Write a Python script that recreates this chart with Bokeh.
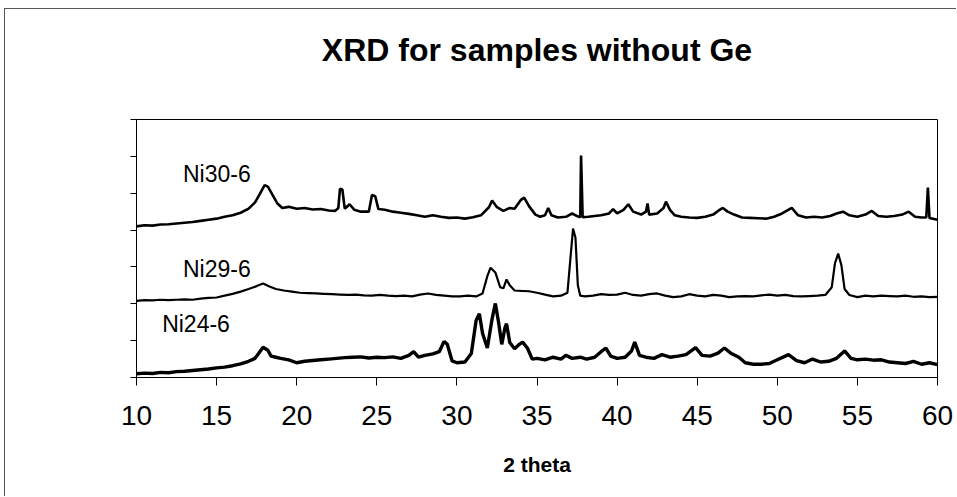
from bokeh.plotting import figure
from bokeh.models import Label, Range1d, FixedTicker, LinearAxis
from bokeh.embed import file_html
from bokeh.resources import INLINE

# ---- data (2-theta, stacked intensity in axis units) ----
ni30_x = [10.0, 10.5, 11.0, 11.5, 12.0, 12.5, 13.0, 13.5, 14.0, 14.5, 15.0, 15.5, 16.0, 16.5, 17.0, 17.4, 17.7, 18.0, 18.2, 18.5, 18.8, 19.1, 19.5, 20.0, 20.5, 21.0, 21.5, 22.0, 22.4, 22.6, 22.7, 22.85, 23.0, 23.3, 23.6, 24.0, 24.5, 24.7, 24.9, 25.1, 25.5, 26.0, 26.5, 27.0, 27.5, 28.0, 28.5, 29.0, 29.5, 30.0, 30.5, 31.0, 31.5, 32.0, 32.2, 32.5, 32.9, 33.3, 33.6, 34.0, 34.2, 34.5, 34.9, 35.2, 35.5, 35.7, 35.9, 36.3, 36.8, 37.2, 37.5, 37.7, 37.75, 37.85, 38.2, 38.6, 39.0, 39.5, 39.75, 40.0, 40.4, 40.7, 41.0, 41.5, 41.8, 41.9, 42.0, 42.5, 42.9, 43.05, 43.3, 43.6, 44.0, 44.5, 45.0, 45.5, 46.0, 46.4, 46.6, 46.9, 47.3, 47.8, 48.3, 48.8, 49.3, 49.8, 50.3, 50.9, 51.3, 51.8, 52.3, 52.8, 53.3, 53.7, 54.1, 54.5, 55.0, 55.5, 55.9, 56.3, 56.8, 57.3, 57.8, 58.2, 58.6, 59.0, 59.3, 59.4, 59.5, 60.0]
ni30_y = [4.10, 4.13, 4.12, 4.15, 4.16, 4.18, 4.20, 4.22, 4.25, 4.28, 4.31, 4.36, 4.40, 4.47, 4.58, 4.75, 4.98, 5.22, 5.18, 4.95, 4.72, 4.60, 4.63, 4.58, 4.60, 4.56, 4.57, 4.53, 4.52, 4.60, 5.12, 5.10, 4.58, 4.70, 4.55, 4.50, 4.50, 4.95, 4.92, 4.57, 4.55, 4.50, 4.47, 4.44, 4.40, 4.36, 4.40, 4.36, 4.33, 4.34, 4.31, 4.35, 4.40, 4.62, 4.80, 4.62, 4.52, 4.60, 4.58, 4.82, 4.88, 4.65, 4.42, 4.36, 4.40, 4.60, 4.40, 4.34, 4.36, 4.45, 4.38, 4.35, 6.02, 4.35, 4.36, 4.38, 4.40, 4.45, 4.57, 4.45, 4.55, 4.70, 4.50, 4.42, 4.50, 4.72, 4.42, 4.45, 4.60, 4.77, 4.55, 4.40, 4.36, 4.34, 4.33, 4.36, 4.42, 4.55, 4.60, 4.50, 4.42, 4.34, 4.33, 4.32, 4.31, 4.36, 4.45, 4.60, 4.40, 4.34, 4.36, 4.34, 4.38, 4.45, 4.50, 4.40, 4.36, 4.42, 4.52, 4.38, 4.36, 4.38, 4.42, 4.50, 4.36, 4.34, 4.34, 5.15, 4.33, 4.28]

ni29_x = [10.0, 10.5, 11.0, 11.5, 12.0, 12.5, 13.0, 13.5, 14.0, 14.5, 15.0, 15.5, 16.0, 16.5, 17.0, 17.5, 17.9, 18.3, 18.7, 19.2, 19.7, 20.2, 20.7, 21.2, 21.7, 22.2, 22.7, 23.2, 23.7, 24.2, 24.7, 25.2, 25.7, 26.2, 26.7, 27.2, 27.7, 28.2, 28.7, 29.2, 29.7, 30.2, 30.7, 31.2, 31.6, 31.9, 32.1, 32.4, 32.7, 32.9, 33.1, 33.3, 33.6, 34.0, 34.5, 35.0, 35.5, 36.0, 36.5, 36.9, 37.1, 37.25, 37.4, 37.55, 37.7, 38.0, 38.5, 39.0, 39.5, 40.0, 40.5, 41.0, 41.5, 42.0, 42.5, 43.0, 43.5, 44.0, 44.5, 45.0, 45.5, 46.0, 46.5, 47.0, 47.5, 48.0, 48.5, 49.0, 49.5, 50.0, 50.5, 51.0, 51.5, 52.0, 52.5, 53.0, 53.4, 53.6, 53.8, 54.0, 54.2, 54.5, 55.0, 55.5, 56.0, 56.5, 57.0, 57.5, 58.0, 58.5, 59.0, 59.5, 60.0]
ni29_y = [2.08, 2.10, 2.09, 2.11, 2.10, 2.11, 2.12, 2.11, 2.14, 2.16, 2.17, 2.22, 2.27, 2.33, 2.40, 2.48, 2.55, 2.47, 2.40, 2.36, 2.33, 2.30, 2.29, 2.28, 2.27, 2.26, 2.25, 2.24, 2.25, 2.23, 2.22, 2.24, 2.22, 2.21, 2.22, 2.20, 2.25, 2.28, 2.24, 2.22, 2.20, 2.20, 2.22, 2.20, 2.28, 2.75, 2.98, 2.85, 2.45, 2.42, 2.66, 2.50, 2.36, 2.35, 2.34, 2.30, 2.25, 2.20, 2.22, 2.30, 3.30, 4.04, 3.80, 2.50, 2.22, 2.20, 2.22, 2.26, 2.24, 2.25, 2.30, 2.24, 2.22, 2.26, 2.28, 2.22, 2.18, 2.20, 2.26, 2.22, 2.20, 2.24, 2.22, 2.18, 2.20, 2.21, 2.20, 2.23, 2.25, 2.22, 2.24, 2.21, 2.20, 2.21, 2.22, 2.24, 2.45, 3.10, 3.36, 3.05, 2.40, 2.24, 2.18, 2.22, 2.20, 2.22, 2.21, 2.20, 2.22, 2.19, 2.20, 2.18, 2.19]

ni24_x = [10.0, 10.5, 11.0, 11.5, 12.0, 12.5, 13.0, 13.5, 14.0, 14.5, 15.0, 15.5, 16.0, 16.5, 17.0, 17.4, 17.7, 17.9, 18.2, 18.4, 18.7, 19.0, 19.5, 20.0, 20.5, 21.0, 21.5, 22.0, 22.5, 23.0, 23.5, 24.0, 24.5, 25.0, 25.5, 26.0, 26.5, 27.0, 27.3, 27.6, 28.0, 28.5, 28.9, 29.2, 29.4, 29.7, 30.0, 30.5, 30.9, 31.2, 31.4, 31.6, 31.9, 32.2, 32.4, 32.6, 32.8, 33.0, 33.1, 33.3, 33.6, 33.9, 34.1, 34.4, 34.7, 35.0, 35.5, 36.0, 36.5, 36.8, 37.2, 37.7, 38.1, 38.6, 39.0, 39.3, 39.6, 40.0, 40.5, 40.9, 41.1, 41.4, 41.8, 42.3, 42.8, 43.3, 43.8, 44.3, 44.9, 45.3, 45.8, 46.3, 46.7, 47.1, 47.6, 48.0, 48.5, 49.0, 49.5, 50.0, 50.7, 51.2, 51.7, 52.2, 52.7, 53.2, 53.7, 54.2, 54.6, 55.0, 55.5, 56.0, 56.5, 57.0, 57.5, 58.0, 58.5, 59.0, 59.5, 60.0]
ni24_y = [0.10, 0.12, 0.11, 0.14, 0.13, 0.16, 0.17, 0.19, 0.21, 0.23, 0.26, 0.28, 0.32, 0.37, 0.44, 0.52, 0.70, 0.82, 0.74, 0.58, 0.55, 0.52, 0.48, 0.40, 0.44, 0.46, 0.48, 0.50, 0.52, 0.54, 0.55, 0.56, 0.53, 0.55, 0.54, 0.56, 0.52, 0.60, 0.70, 0.55, 0.60, 0.64, 0.70, 0.98, 0.90, 0.45, 0.40, 0.42, 0.65, 1.55, 1.73, 1.20, 0.80, 1.60, 2.01, 1.50, 0.90, 1.35, 1.46, 0.95, 0.78, 0.90, 0.96, 0.80, 0.50, 0.52, 0.48, 0.55, 0.50, 0.60, 0.52, 0.55, 0.50, 0.55, 0.70, 0.80, 0.58, 0.52, 0.55, 0.72, 0.96, 0.60, 0.55, 0.52, 0.62, 0.55, 0.58, 0.62, 0.81, 0.60, 0.58, 0.66, 0.80, 0.66, 0.55, 0.40, 0.36, 0.36, 0.38, 0.48, 0.62, 0.46, 0.40, 0.50, 0.42, 0.44, 0.52, 0.72, 0.52, 0.48, 0.50, 0.47, 0.48, 0.42, 0.40, 0.38, 0.44, 0.36, 0.40, 0.35]

series_names = ["Ni30-6", "Ni29-6", "Ni24-6"]
label_x = [12.9, 12.9, 11.6]
label_y = [5.53, 2.95, 1.44]
x_ticks = [10, 15, 20, 25, 30, 35, 40, 45, 50, 55, 60]
y_ticks = [0, 1, 2, 3, 4, 5, 6, 7]
title_text = "XRD for samples without Ge"
x_title = "2 theta"

FONT = "Liberation Sans"

p = figure(width=952, height=488, output_backend="svg", toolbar_location=None,
           x_range=Range1d(10, 60), y_range=Range1d(0, 7),
           min_border_left=131, min_border_right=20, min_border_top=110, min_border_bottom=120)
p.styles = {"margin-left": "4px", "margin-top": "8px",
            "border-left": "1px solid #555", "border-top": "1px solid #555"}
p.background_fill_color = "white"
p.border_fill_color = "white"
p.outline_line_color = "black"
p.outline_line_width = 1
p.xgrid.visible = False
p.ygrid.visible = False

# keep explicit references to the default axes before adding another one
xa = p.below[0]
ya = p.left[0]

# title drawn as the label of a bare axis above the frame
top_axis = LinearAxis(axis_label=title_text, ticker=FixedTicker(ticks=[]))
top_axis.axis_line_color = None
top_axis.major_tick_out = 0
top_axis.major_tick_in = 0
top_axis.minor_tick_out = 0
top_axis.minor_tick_in = 0
top_axis.major_label_text_font_size = "0px"
top_axis.major_label_standoff = 0
top_axis.axis_label_text_font = FONT
top_axis.axis_label_text_font_style = "bold"
top_axis.axis_label_text_font_size = "32px"
top_axis.axis_label_text_color = "black"
top_axis.axis_label_standoff = 52
p.add_layout(top_axis, "above")

p.line(ni30_x, ni30_y, color="black", line_width=2.6)
p.line(ni29_x, ni29_y, color="black", line_width=2.2)
p.line(ni24_x, ni24_y, color="black", line_width=3.4)

for name, lx, ly in zip(series_names, label_x, label_y):
    p.add_layout(Label(x=lx, y=ly, text=name, text_font=FONT, text_font_size="23px",
                       text_baseline="middle", text_align="left", text_color="black"))

xa.ticker = FixedTicker(ticks=x_ticks)
xa.major_tick_out = 8
xa.major_tick_in = 0
xa.minor_tick_out = 0
xa.minor_tick_in = 0
xa.axis_line_color = "black"
xa.major_tick_line_color = "black"
xa.major_label_text_font = FONT
xa.major_label_text_font_size = "28px"
xa.major_label_text_color = "black"
xa.major_label_standoff = 20
xa.axis_label = x_title
xa.axis_label_text_font = FONT
xa.axis_label_text_font_style = "bold"
xa.axis_label_text_font_size = "21px"
xa.axis_label_text_color = "black"
xa.axis_label_standoff = 25

ya.ticker = FixedTicker(ticks=y_ticks)
ya.major_tick_out = 6
ya.major_tick_in = 0
ya.minor_tick_out = 0
ya.minor_tick_in = 0
ya.axis_line_color = "black"
ya.major_label_text_font_size = "0px"
ya.major_label_text_color = None

open("out.html", "w").write(file_html(p, INLINE))
